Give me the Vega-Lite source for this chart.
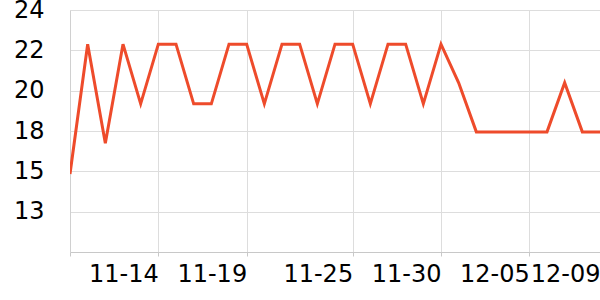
{
  "$schema": "https://vega.github.io/schema/vega-lite/v6.json",
  "autosize": {"type": "none"},
  "padding": {"left": 70, "top": 10, "right": 0, "bottom": 48},
  "width": 530,
  "height": 242,
  "config": {"view": {"stroke": null}, "font": "DejaVu Sans"},
  "data": {"values": [
    {"date": "2023-11-09", "value": 15.05},
    {"date": "2023-11-10", "value": 22.45},
    {"date": "2023-11-11", "value": 16.8},
    {"date": "2023-11-12", "value": 22.45},
    {"date": "2023-11-13", "value": 19.05},
    {"date": "2023-11-14", "value": 22.45},
    {"date": "2023-11-15", "value": 22.45},
    {"date": "2023-11-16", "value": 19.05},
    {"date": "2023-11-17", "value": 19.05},
    {"date": "2023-11-18", "value": 22.45},
    {"date": "2023-11-19", "value": 22.45},
    {"date": "2023-11-20", "value": 19.05},
    {"date": "2023-11-21", "value": 22.45},
    {"date": "2023-11-22", "value": 22.45},
    {"date": "2023-11-23", "value": 19.05},
    {"date": "2023-11-24", "value": 22.45},
    {"date": "2023-11-25", "value": 22.45},
    {"date": "2023-11-26", "value": 19.05},
    {"date": "2023-11-27", "value": 22.45},
    {"date": "2023-11-28", "value": 22.45},
    {"date": "2023-11-29", "value": 19.05},
    {"date": "2023-11-30", "value": 22.45},
    {"date": "2023-12-01", "value": 20.25},
    {"date": "2023-12-02", "value": 17.45},
    {"date": "2023-12-03", "value": 17.45},
    {"date": "2023-12-04", "value": 17.45},
    {"date": "2023-12-05", "value": 17.45},
    {"date": "2023-12-06", "value": 17.45},
    {"date": "2023-12-07", "value": 20.25},
    {"date": "2023-12-08", "value": 17.45},
    {"date": "2023-12-09", "value": 17.45}
  ]},
  "mark": {"type": "line", "color": "#ee4b2b", "strokeWidth": 3, "strokeJoin": "miter", "clip": true},
  "encoding": {
    "x": {
      "field": "date",
      "type": "temporal",
      "scale": {"type": "utc", "domain": [1699488000000, 1702080000000], "nice": false},
      "axis": {
        "title": null,
        "values": [1699488000000, 1699920000000, 1700352000000, 1700870400000, 1701302400000, 1701734400000, 1702080000000],
        "labelExpr": "datum.value <= 1699488000000 ? '' : utcFormat(datum.value, '%m-%d')",
        "labelAlign": "right",
        "labelBaseline": "top",
        "labelFontSize": 24,
        "labelFont": "DejaVu Sans",
        "labelColor": "#000000",
        "labelPadding": 6,
        "labelOverlap": false,
        "labelFlush": false,
        "grid": true,
        "gridColor": "#dddddd",
        "gridWidth": 1,
        "domainColor": "#c8c8c8",
        "tickColor": "#c8c8c8",
        "tickSize": 4
      }
    },
    "y": {
      "field": "value",
      "type": "quantitative",
      "scale": {"domain": [10.6, 24.4], "nice": false, "zero": false},
      "axis": {
        "title": null,
        "values": [12.9, 15.2, 17.5, 19.8, 22.1, 24.4],
        "format": ".0f",
        "labelFontSize": 24,
        "labelFont": "DejaVu Sans",
        "labelColor": "#000000",
        "labelPadding": 26,
        "labelOverlap": false,
        "labelFlush": false,
        "ticks": false,
        "grid": true,
        "gridColor": "#dddddd",
        "gridWidth": 1,
        "domainColor": "#d0d0d0"
      }
    }
  }
}
